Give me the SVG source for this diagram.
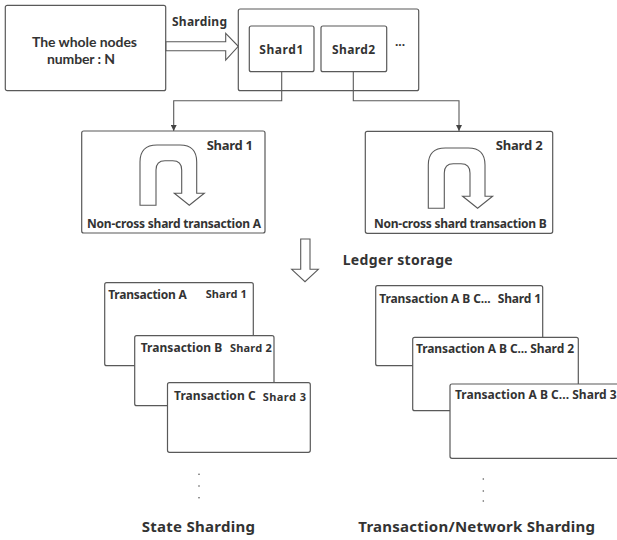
<svg xmlns="http://www.w3.org/2000/svg" width="617" height="540" viewBox="0 0 617 540">
<defs>
<style>
.box{fill:#fff;stroke:#595959;stroke-width:1.2}
.hollow{fill:#fff;stroke:#595959;stroke-width:1.1;stroke-linejoin:miter}
.conn{fill:none;stroke:#595959;stroke-width:1.1}
text{font-family:"Noto Sans","Liberation Sans",Arial,sans-serif;font-weight:700;fill:#333}
.lato{font-family:Lato,"Liberation Sans",Arial,sans-serif}
.t12{font-size:12px}
.t11{font-size:11px}
.t13{font-size:13px}
.t14{font-size:14px}
.t15{font-size:15px}
.dot{fill:#555}
</style>
<marker id="ah" viewBox="0 0 8 8" refX="8" refY="4" markerWidth="6" markerHeight="6" orient="auto" markerUnits="userSpaceOnUse">
<path d="M0,0 L8,4 L0,8 Z" fill="#444"/>
</marker>
<path id="uturn" d="M140,205.3 V162 Q140,145 157,145 H180 Q196.7,145 196.7,162 V193.3 H204.3 L189.3,205.3 L174.3,193.3 H181.7 V170 Q181.7,160.7 172.7,160.7 H165 Q156,160.7 156,170 V205.3 Z"/>
</defs>

<g id="total-nodes">
<rect class="box" x="5.3" y="5.3" width="160.4" height="85.4" rx="2"/>
<text class="t14 lato" x="32" y="47" textLength="105">The whole nodes</text>
<text class="t14 lato" x="47" y="64" textLength="68">number : N</text>
</g>

<g id="sharding-arrow">
<path class="hollow" d="M166,41.7 H225.7 V33.3 L238.3,46.3 L225.7,60 V50.7 H166 Z"/>
<text class="t12" x="172" y="26" textLength="55">Sharding</text>
</g>

<g id="shard-group">
<rect class="box" x="238.3" y="9" width="180.4" height="81.7" rx="2"/>
</g>
<g id="shard1-small">
<rect class="box" x="249.3" y="26" width="64.7" height="45.7" rx="2"/>
<text class="t12" x="259.3" y="54.3" textLength="44">Shard1</text>
</g>
<g id="shard2-small">
<rect class="box" x="321" y="26" width="65.7" height="45.7" rx="2"/>
<text class="t12" x="332" y="54.3" textLength="43">Shard2</text>
</g>
<g id="ellipsis-top">
<text class="t12" x="395" y="46" textLength="10">...</text>
</g>

<g id="connectors">
<path class="conn" d="M281.7,71.7 V100.7 H173.7 V131" marker-end="url(#ah)"/>
<path class="conn" d="M353.3,71.7 V100.7 H459 V131" marker-end="url(#ah)"/>
</g>

<g id="shard1-big">
<rect class="box" x="81.7" y="131" width="183.3" height="102" rx="2"/>
<text class="t13" x="206.7" y="150" textLength="46.3">Shard 1</text>
<use href="#uturn" class="hollow"/>
<text class="t12" x="87" y="227.7" textLength="174">Non-cross shard transaction A</text>
</g>

<g id="shard2-big">
<rect class="box" x="365.3" y="131.3" width="187.4" height="102" rx="2"/>
<text class="t13" x="495.7" y="150" textLength="47">Shard 2</text>
<use href="#uturn" class="hollow" transform="translate(288.3,3)"/>
<text class="t12" x="374" y="227.7" textLength="172.7">Non-cross shard transaction B</text>
</g>

<g id="ledger-arrow">
<path class="hollow" d="M300.7,239 H310 V269.3 H318.3 L305,281.7 L291.7,269.3 H300.7 Z"/>
<text class="t14" x="342.7" y="265" textLength="110">Ledger storage</text>
</g>

<g id="state-a">
<rect class="box" x="104.7" y="282.7" width="148.6" height="83" rx="2"/>
<text class="t12" x="108.3" y="299.3" textLength="78.4">Transaction A</text>
<text class="t11" x="205.7" y="298.3" textLength="41">Shard 1</text>
</g>
<g id="state-b">
<rect class="box" x="134.7" y="335.7" width="139.3" height="70" rx="2"/>
<text class="t12" x="140.7" y="352.3" textLength="81.6">Transaction B</text>
<text class="t11" x="230" y="352.3" textLength="41.7">Shard 2</text>
</g>
<g id="state-c">
<rect class="box" x="167.5" y="382.7" width="142.8" height="69.6" rx="2"/>
<text class="t12" x="174" y="400" textLength="81.7">Transaction C</text>
<text class="t11" x="262.7" y="401" textLength="43.3">Shard 3</text>
</g>
<g id="state-dots">
<circle class="dot" cx="199" cy="474.3" r="0.8"/>
<circle class="dot" cx="199" cy="486" r="0.8"/>
<circle class="dot" cx="199" cy="497.7" r="0.8"/>
</g>
<g id="state-label">
<text class="t15" x="141.7" y="531.7" textLength="113.3">State Sharding</text>
</g>

<g id="tx-1">
<rect class="box" x="375.7" y="285.7" width="167" height="80" rx="2"/>
<text class="t12" x="379.3" y="303.3" textLength="111.4">Transaction A B C...</text>
<text class="t12" x="497.7" y="303.3" textLength="43.3">Shard 1</text>
</g>
<g id="tx-2">
<rect class="box" x="412.7" y="337.3" width="165.6" height="73.4" rx="2"/>
<text class="t12" x="416" y="353.3" textLength="158">Transaction A B C... Shard 2</text>
</g>
<g id="tx-3">
<rect class="box" x="450" y="384" width="185" height="74.3" rx="2"/>
<text class="t12" x="455" y="399.3" textLength="161.7">Transaction A B C... Shard 3</text>
</g>
<g id="tx-dots">
<circle class="dot" cx="483.3" cy="479" r="0.8"/>
<circle class="dot" cx="483.3" cy="491" r="0.8"/>
<circle class="dot" cx="483.3" cy="501" r="0.8"/>
</g>
<g id="tx-label">
<text class="t15" x="358.3" y="531.7" textLength="236.7">Transaction/Network Sharding</text>
</g>
</svg>
